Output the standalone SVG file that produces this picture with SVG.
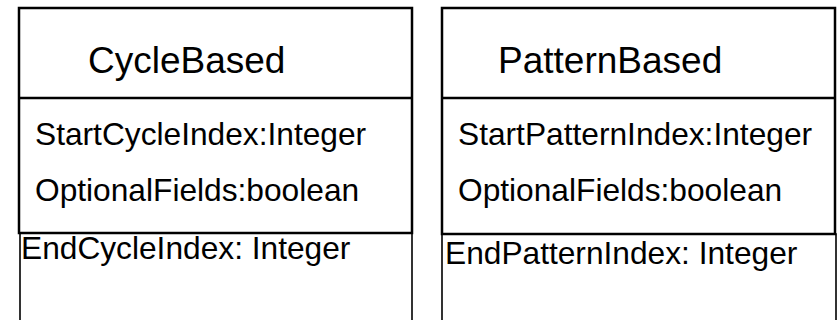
<svg xmlns="http://www.w3.org/2000/svg" width="838" height="320" viewBox="0 0 838 320">
<style>
.box{fill:none;stroke:#000;stroke-width:2.5}
.low{fill:none;stroke:#000;stroke-width:1.6}
.t{font-family:"Liberation Sans",Arial,sans-serif;fill:#000}
.title{font-size:37px}
.attr{font-size:31.7px}
</style>
<rect width="838" height="320" fill="#fff"/>
<g id="CycleBased">
<rect class="low" x="20" y="233" width="392" height="120"/>
<rect class="box" x="19" y="8" width="393" height="225"/>
<line class="box" x1="19" y1="98" x2="412" y2="98"/>
<text class="t title" x="88" y="73">CycleBased</text>
<text class="t attr" x="35" y="145">StartCycleIndex:Integer</text>
<text class="t attr" x="35" y="201">OptionalFields:boolean</text>
<text class="t attr" x="21" y="258.5">EndCycleIndex: Integer</text>
</g>
<g id="PatternBased">
<rect class="low" x="442" y="234" width="394" height="120"/>
<rect class="box" x="442" y="8" width="393" height="226"/>
<line class="box" x1="442" y1="98" x2="835" y2="98"/>
<text class="t title" x="498" y="73">PatternBased</text>
<text class="t attr" x="458" y="145">StartPatternIndex:Integer</text>
<text class="t attr" x="458" y="201">OptionalFields:boolean</text>
<text class="t attr" x="445" y="263.5">EndPatternIndex: Integer</text>
</g>
<g id="connectors"/>
</svg>
